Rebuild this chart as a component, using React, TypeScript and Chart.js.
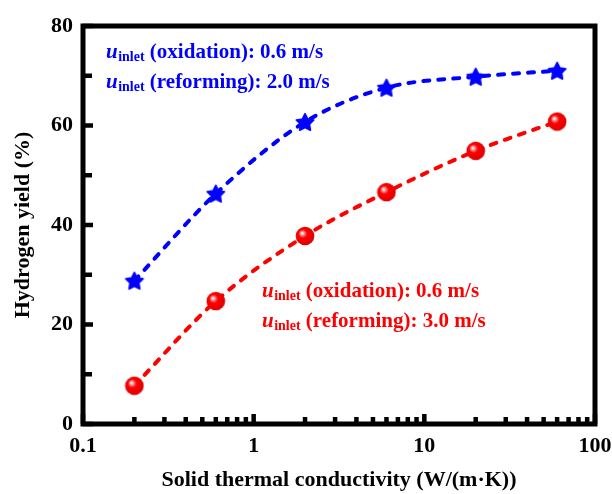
import React, { useEffect, useRef } from 'react';
import { Chart, registerables } from 'chart.js';

Chart.register(...registerables);

const conductivity = [0.2, 0.6, 2, 6, 20, 60];
const yieldBlue = [28.8, 46.3, 60.7, 67.6, 69.8, 71.0];
const yieldRed = [7.7, 24.7, 37.8, 46.6, 54.9, 60.8];
const xTickValues = [0.1, 1, 10, 100];
const xTickLabels = ['0.1', '1', '10', '100'];
const xMinorTicks = [0.2, 0.3, 0.4, 0.5, 0.6, 0.7, 0.8, 0.9, 2, 3, 4, 5, 6, 7, 8, 9, 20, 30, 40, 50, 60, 70, 80, 90];
const yTickValues = [0, 20, 40, 60, 80];
const yMinorTicks = [10, 30, 50, 70];
const xTitle = 'Solid thermal conductivity (W/(m\u00b7K))';
const yTitle = 'Hydrogen yield (%)';
const blueLabels = [' (oxidation): 0.6 m/s', ' (reforming): 2.0 m/s'];
const redLabels = [' (oxidation): 0.6 m/s', ' (reforming): 3.0 m/s'];

const FONT = "'Times New Roman', 'Liberation Serif', serif";
const BLUE = '#0000ff';
const RED = '#ff0000';

function makeStar(): HTMLCanvasElement {
  const c = document.createElement('canvas');
  c.width = 22; c.height = 22;
  const g = c.getContext('2d')!;
  g.fillStyle = BLUE;
  g.strokeStyle = BLUE;
  g.lineJoin = 'round';
  g.lineWidth = 1.6;
  g.beginPath();
  const R = 9.2, r = 4.7;
  for (let i = 0; i < 10; i++) {
    const a = -Math.PI / 2 + (i * Math.PI) / 5;
    const rad = i % 2 === 0 ? R : r;
    const px = 11 + rad * Math.cos(a);
    const py = 11.8 + rad * Math.sin(a);
    if (i === 0) g.moveTo(px, py); else g.lineTo(px, py);
  }
  g.closePath();
  g.fill();
  g.stroke();
  return c;
}

function makeSphere(): HTMLCanvasElement {
  const c = document.createElement('canvas');
  c.width = 20; c.height = 20;
  const g = c.getContext('2d')!;
  const grad = g.createRadialGradient(7, 7, 0.5, 9, 9, 10);
  grad.addColorStop(0, '#ffffff');
  grad.addColorStop(0.18, '#ff8080');
  grad.addColorStop(0.4, '#ff0000');
  grad.addColorStop(1, '#e00000');
  g.fillStyle = grad;
  g.beginPath();
  g.arc(10, 10, 9.3, 0, Math.PI * 2);
  g.fill();
  return c;
}

function drawLabel(ctx: CanvasRenderingContext2D, x: number, y: number, color: string, rest: string) {
  ctx.save();
  ctx.fillStyle = color;
  ctx.textBaseline = 'alphabetic';
  ctx.textAlign = 'left';
  ctx.font = `italic bold 21px ${FONT}`;
  ctx.fillText('u', x, y);
  let cx = x + ctx.measureText('u').width + 0.5;
  ctx.font = `bold 14px ${FONT}`;
  ctx.fillText('inlet', cx, y + 3);
  cx += ctx.measureText('inlet').width;
  ctx.font = `bold 21px ${FONT}`;
  ctx.fillText(rest, cx, y);
  ctx.restore();
}

const framePlugin = {
  id: 'frameTicks',
  afterDraw(chart: any) {
    const { ctx, chartArea } = chart;
    const xs = chart.scales.x;
    const ys = chart.scales.y;
    ctx.save();
    ctx.strokeStyle = '#000';
    ctx.lineWidth = 5;
    ctx.strokeRect(chartArea.left, chartArea.top, chartArea.right - chartArea.left, chartArea.bottom - chartArea.top);
    ctx.lineWidth = 4.5;
    ctx.beginPath();
    for (const v of yTickValues) {
      const py = ys.getPixelForValue(v);
      ctx.moveTo(chartArea.left, py);
      ctx.lineTo(chartArea.left + 10, py);
    }
    for (const v of yMinorTicks) {
      const py = ys.getPixelForValue(v);
      ctx.moveTo(chartArea.left, py);
      ctx.lineTo(chartArea.left + 9, py);
    }
    for (const v of xTickValues) {
      const px = xs.getPixelForValue(v);
      ctx.moveTo(px, chartArea.bottom);
      ctx.lineTo(px, chartArea.bottom - 10);
    }
    for (const v of xMinorTicks) {
      const px = xs.getPixelForValue(v);
      ctx.moveTo(px, chartArea.bottom);
      ctx.lineTo(px, chartArea.bottom - 7);
    }
    ctx.stroke();
    drawLabel(ctx, 106, 58, BLUE, blueLabels[0]);
    drawLabel(ctx, 106, 88, BLUE, blueLabels[1]);
    drawLabel(ctx, 262, 297, RED, redLabels[0]);
    drawLabel(ctx, 262, 327, RED, redLabels[1]);
    ctx.restore();
  },
};

export default function App() {
  const ref = useRef<HTMLCanvasElement | null>(null);
  useEffect(() => {
    document.body.style.margin = '0';
    document.body.style.background = '#fff';
    const star = makeStar();
    const sphere = makeSphere();
    const chart = new Chart(ref.current!, {
      type: 'line',
      data: {
        datasets: [
          {
            data: conductivity.map((x, i) => ({ x, y: yieldBlue[i] })),
            borderColor: BLUE,
            backgroundColor: BLUE,
            borderWidth: 4,
            borderDash: [6, 9],
            borderCapStyle: 'round',
            cubicInterpolationMode: 'monotone',
            pointStyle: star as any,
            pointRadius: 9,
          },
          {
            data: conductivity.map((x, i) => ({ x, y: yieldRed[i] })),
            borderColor: RED,
            backgroundColor: RED,
            borderWidth: 4,
            borderDash: [6, 9],
            borderCapStyle: 'round',
            cubicInterpolationMode: 'monotone',
            pointStyle: sphere as any,
            pointRadius: 9,
          },
        ],
      },
      options: {
        responsive: false,
        animation: false,
        layout: { padding: { top: 26, right: 17, left: 0, bottom: 0 } },
        plugins: { legend: { display: false }, tooltip: { enabled: false } },
        scales: {
          x: {
            type: 'logarithmic',
            min: 0.1,
            max: 100,
            grid: { display: false, drawTicks: false },
            border: { display: false },
            afterBuildTicks: (scale: any) => {
              scale.ticks = xTickValues.map((v) => ({ value: v }));
            },
            afterFit: (scale: any) => {
              scale.height = 70;
              scale.paddingLeft = 0;
              scale.paddingRight = 0;
            },
            ticks: {
              autoSkip: false,
              maxRotation: 0,
              padding: 9,
              color: '#000',
              font: { family: FONT, size: 22, weight: 'bold' },
              callback: (v: any) => {
                const i = xTickValues.indexOf(Number(v));
                return i >= 0 ? xTickLabels[i] : '';
              },
            },
            title: {
              display: true,
              text: xTitle,
              color: '#000',
              font: { family: FONT, size: 22, weight: 'bold' },
              padding: { top: 10, bottom: 0 },
            },
          },
          y: {
            min: 0,
            max: 80,
            grid: { display: false, drawTicks: false },
            border: { display: false },
            afterBuildTicks: (scale: any) => {
              scale.ticks = yTickValues.map((v) => ({ value: v }));
            },
            afterFit: (scale: any) => {
              scale.width = 83;
              scale.paddingTop = 0;
              scale.paddingBottom = 0;
            },
            ticks: {
              padding: 10,
              color: '#000',
              font: { family: FONT, size: 22, weight: 'bold' },
            },
            title: {
              display: true,
              text: yTitle,
              color: '#000',
              font: { family: FONT, size: 22, weight: 'bold' },
              padding: { top: 10, bottom: 0 },
            },
          },
        },
      },
      plugins: [framePlugin],
    } as any);
    return () => chart.destroy();
  }, []);
  return <canvas ref={ref} width={612} height={494} style={{ display: 'block' }} />;
}
